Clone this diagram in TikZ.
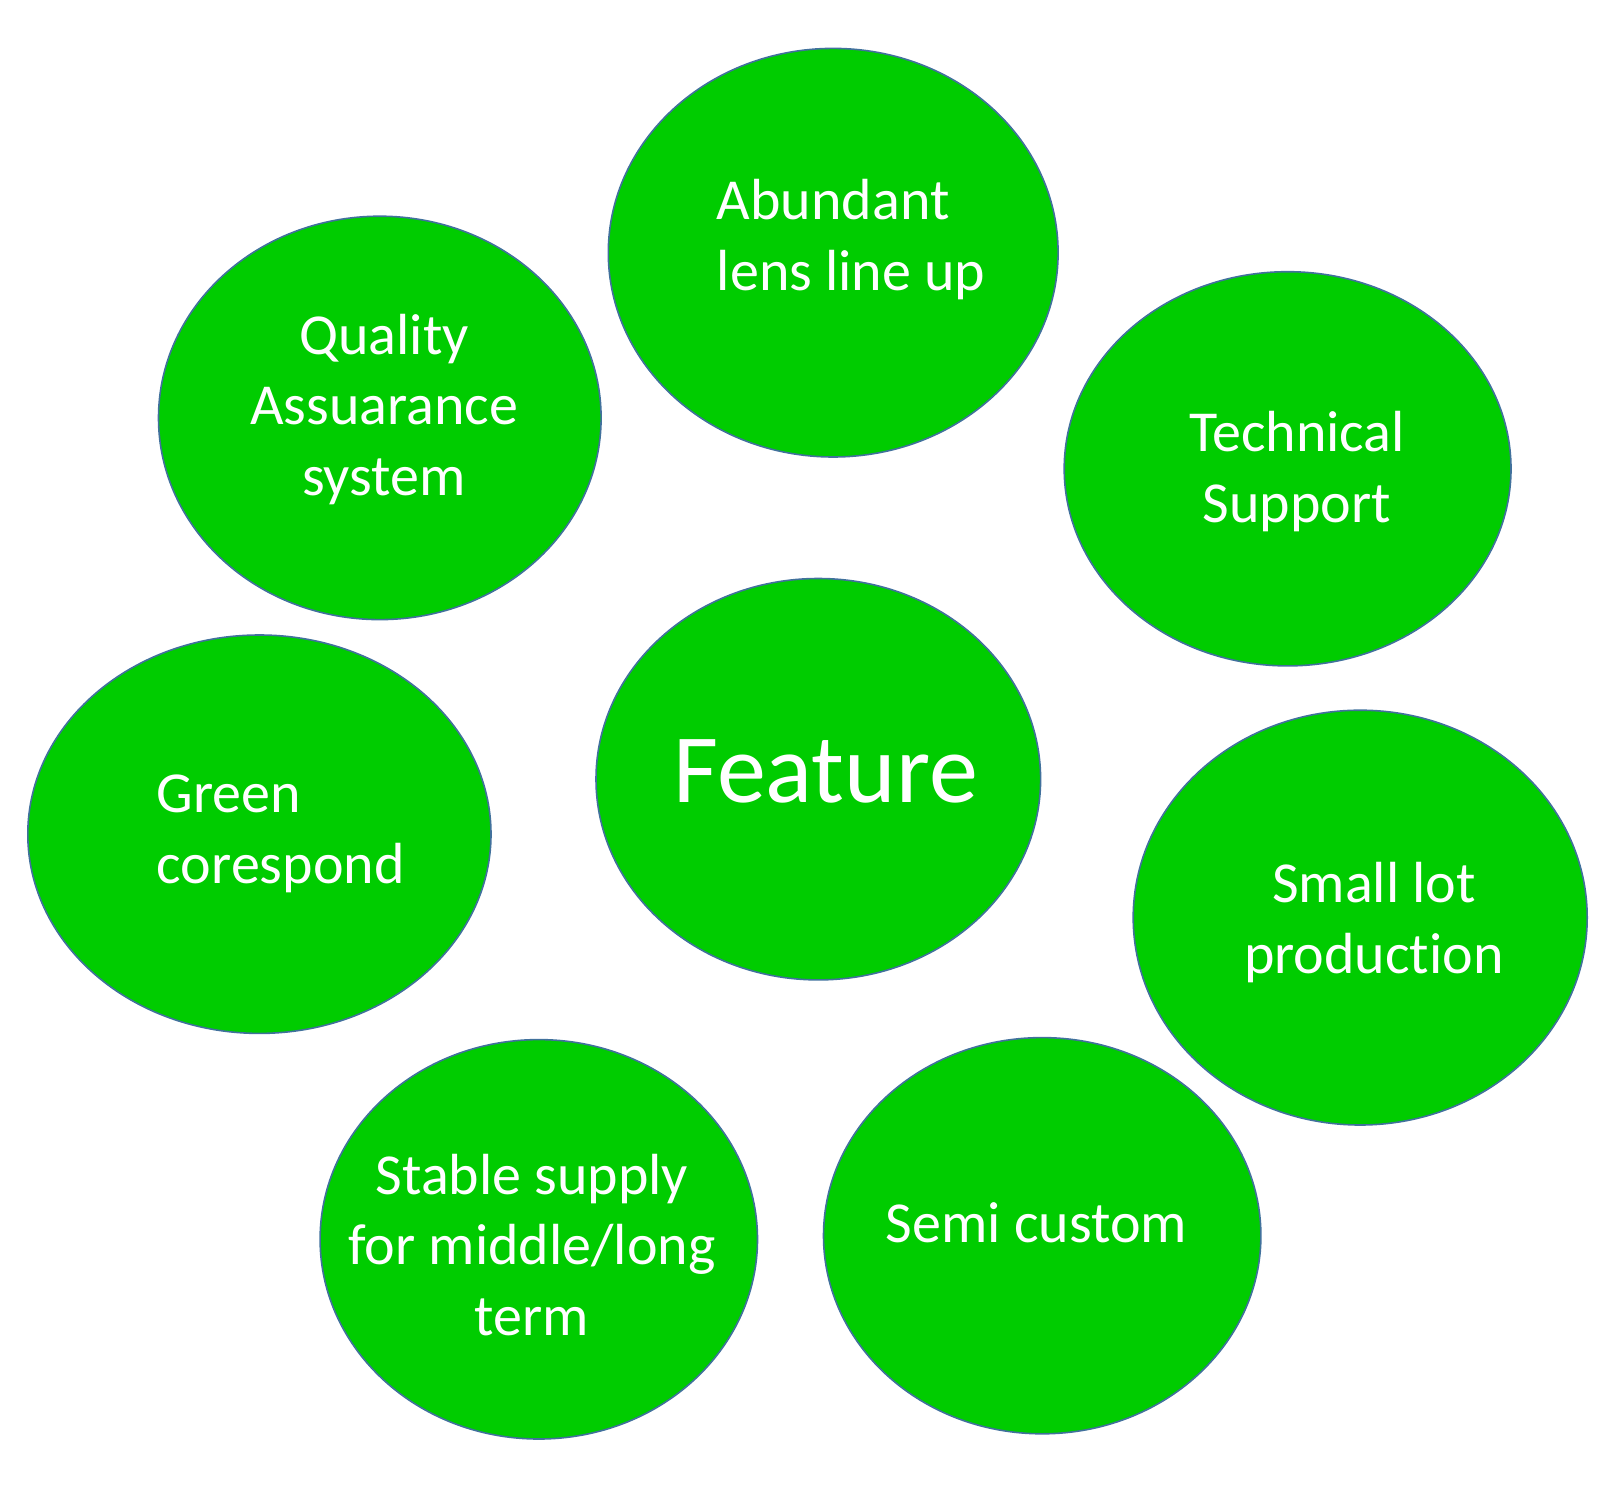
\documentclass[tikz,border=0pt]{standalone}
\usepackage{fontspec}
\setmainfont{Carlito}[Ligatures={NoCommon}]
\definecolor{bubblefill}{RGB}{0,204,0}
\definecolor{bubbleedge}{RGB}{65,113,156}
\begin{document}
\begin{tikzpicture}[x=1pt,y=-1pt,
  bubble/.style={fill=bubblefill,draw=bubbleedge,line width=1.6pt},
  lbl/.style={text=white,inner sep=0pt,font=\fontsize{58}{70.5}\selectfont},
  big/.style={text=white,inner sep=0pt,font=\fontsize{98}{110}\selectfont}]
\useasboundingbox (0,0) rectangle (1614,1496);
% bubbles
\path[bubble] (833.2,252.7) ellipse [x radius=224.9, y radius=204.3];
\path[bubble] (379.8,417.9) ellipse [x radius=221.3, y radius=201.7];
\path[bubble] (1287.6,468.8) ellipse [x radius=223.4, y radius=197.1];
\path[bubble] (818.3,779.2) ellipse [x radius=222.3, y radius=200.7];
\path[bubble] (259.4,834.2) ellipse [x radius=231.6, y radius=199.2];
\path[bubble] (1360.2,917.6) ellipse [x radius=227.0, y radius=207.4];
\path[bubble] (538.8,1239.3) ellipse [x radius=218.7, y radius=199.7];
\path[bubble] (1042.2,1235.7) ellipse [x radius=218.7, y radius=198.1];
% labels (anchor base = baseline of the last line)
\node[lbl,anchor=base west,align=left] (abundant) at (716.7,290) {Abundant\\lens line up};
\node[lbl,anchor=base,align=center] (quality) at (384,495) {Quality\\Assuarance\\system};
\node[lbl,anchor=base,align=center] (technical) at (1297,522) {Technical\\Support};
\node[big,anchor=base] (feature) at (825.6,802.7) {Feature};
\node[lbl,anchor=base west,align=left] (green) at (156.7,883) {Green\\corespond};
\node[lbl,anchor=base,align=center] (smalllot) at (1374,973) {Small lot\\production};
\node[lbl,anchor=base,align=center] (stable) at (532,1335) {Stable supply\\for middle/long\\term};
\node[lbl,anchor=base] (semi) at (1036.5,1242) {Semi custom};
\end{tikzpicture}
\end{document}
